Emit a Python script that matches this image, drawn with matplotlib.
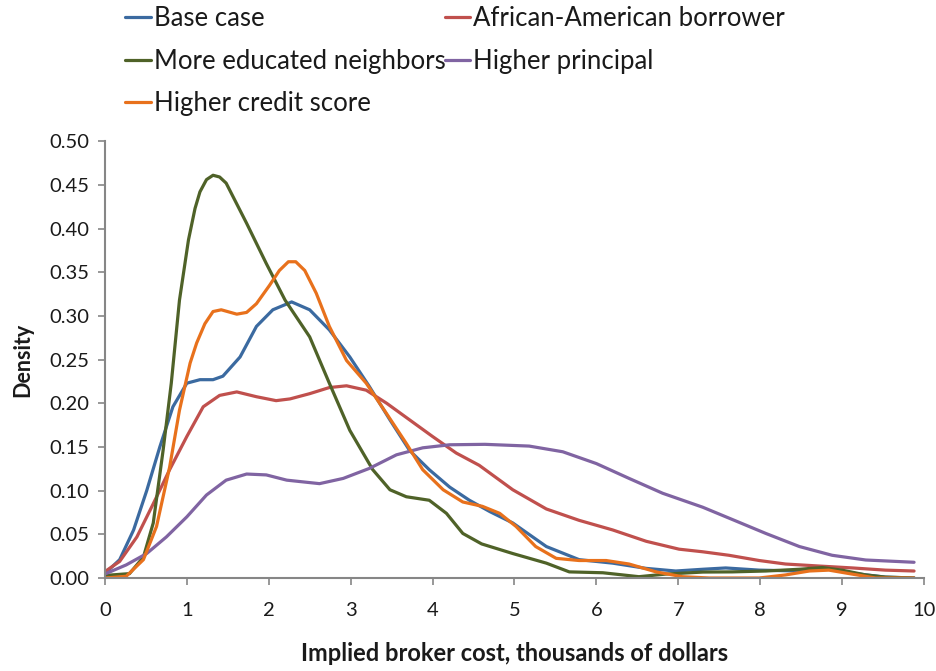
import matplotlib.pyplot as plt

plt.rcParams['font.family'] = ['Lato', 'DejaVu Sans']

# Kernel density curves (x: thousands of dollars)
base_x = [0.01, 0.18, 0.35, 0.51, 0.67, 0.83, 1.0, 1.16, 1.32, 1.44, 1.65, 1.85, 2.05, 2.28,
          2.50, 2.74, 2.99, 3.23, 3.48, 3.72, 3.96, 4.21, 4.45, 4.70, 4.98, 5.39, 5.79, 6.20,
          6.61, 6.97, 7.30, 7.58, 7.99, 8.48, 8.84, 9.17, 9.53, 9.88]
base_y = [0.006, 0.021, 0.055, 0.100, 0.150, 0.196, 0.223, 0.227, 0.227, 0.231, 0.253, 0.288,
          0.307, 0.316, 0.307, 0.284, 0.253, 0.219, 0.181, 0.146, 0.124, 0.104, 0.089, 0.076,
          0.063, 0.036, 0.021, 0.017, 0.011, 0.008, 0.010, 0.0115, 0.009, 0.008, 0.010,
          0.005, 0.001, 0.000]

afam_x = [0.01, 0.18, 0.39, 0.59, 0.79, 1.0, 1.20, 1.40, 1.61, 1.85, 2.09, 2.26, 2.50, 2.74,
          2.95, 3.19, 3.44, 3.72, 4.0, 4.29, 4.57, 4.98, 5.39, 5.79, 6.20, 6.61, 7.01, 7.30,
          7.62, 7.99, 8.31, 8.72, 9.13, 9.53, 9.88]
afam_y = [0.008, 0.019, 0.047, 0.085, 0.124, 0.162, 0.196, 0.209, 0.213, 0.2075, 0.203,
          0.205, 0.211, 0.218, 0.220, 0.215, 0.200, 0.181, 0.162, 0.143, 0.129, 0.101, 0.079,
          0.066, 0.055, 0.042, 0.033, 0.030, 0.026, 0.020, 0.016, 0.0137, 0.0115, 0.009, 0.008]

educ_x = [0.01, 0.30, 0.47, 0.59, 0.71, 0.81, 0.91, 1.02, 1.10, 1.16, 1.24, 1.32, 1.40, 1.48,
          1.73, 1.97, 2.20, 2.50, 2.74, 2.99, 3.27, 3.48, 3.68, 3.96, 4.17, 4.37, 4.60, 4.98,
          5.39, 5.67, 6.08, 6.52, 6.85, 7.30, 7.66, 8.07, 8.48, 8.76, 9.0, 9.29, 9.53, 9.88]
educ_y = [0.003, 0.005, 0.024, 0.063, 0.146, 0.223, 0.318, 0.387, 0.423, 0.442, 0.456, 0.461,
          0.459, 0.452, 0.406, 0.360, 0.318, 0.276, 0.223, 0.169, 0.124, 0.101, 0.093, 0.089,
          0.074, 0.051, 0.039, 0.028, 0.017, 0.007, 0.006, 0.0015, 0.0045, 0.0068, 0.007,
          0.008, 0.010, 0.012, 0.009, 0.0035, 0.001, 0.000]

princ_x = [0.01, 0.26, 0.51, 0.75, 1.0, 1.24, 1.48, 1.73, 1.97, 2.22, 2.62, 2.91, 3.23, 3.56,
           3.88, 4.21, 4.64, 5.18, 5.59, 6.0, 6.40, 6.81, 7.30, 7.66, 8.07, 8.48, 8.88, 9.29,
           9.88]
princ_y = [0.005, 0.015, 0.028, 0.047, 0.070, 0.095, 0.112, 0.119, 0.118, 0.112, 0.108,
           0.114, 0.1255, 0.141, 0.149, 0.1525, 0.153, 0.151, 0.1445, 0.131, 0.114, 0.097,
           0.081, 0.067, 0.051, 0.036, 0.026, 0.0206, 0.018]

credit_x = [0.01, 0.26, 0.47, 0.63, 0.79, 0.91, 1.04, 1.12, 1.22, 1.32, 1.42, 1.61, 1.73,
            1.85, 2.01, 2.13, 2.24, 2.33, 2.44, 2.58, 2.74, 2.95, 3.19, 3.44, 3.68, 3.88,
            4.13, 4.37, 4.61, 4.82, 5.02, 5.26, 5.51, 5.79, 6.12, 6.40, 6.73, 7.05, 7.38,
            7.99, 8.31, 8.60, 8.84, 9.09, 9.41, 9.88]
credit_y = [0.000, 0.002, 0.021, 0.059, 0.127, 0.192, 0.246, 0.269, 0.291, 0.305, 0.307,
            0.302, 0.304, 0.314, 0.335, 0.352, 0.362, 0.362, 0.352, 0.326, 0.288, 0.249,
            0.223, 0.188, 0.154, 0.124, 0.101, 0.087, 0.082, 0.074, 0.059, 0.036, 0.0225,
            0.020, 0.020, 0.016, 0.007, 0.0015, 0.000, 0.000, 0.0035, 0.008, 0.009, 0.005,
            0.000, 0.000]

series = [
    ('Base case', base_x, base_y, '#3b6aa0'),
    ('African-American borrower', afam_x, afam_y, '#c0504d'),
    ('More educated neighbors', educ_x, educ_y, '#4f6228'),
    ('Higher principal', princ_x, princ_y, '#8064a2'),
    ('Higher credit score', credit_x, credit_y, '#e8711c'),
]

fig = plt.figure(figsize=(9.37, 6.71), dpi=100)
ax = fig.add_axes([0.112, 0.1386, 0.874, 0.651])

lines = {}
for name, xs, ys, col in series:
    ln, = ax.plot(xs, ys, color=col, linewidth=2.3, label=name,
                  solid_joinstyle='round', solid_capstyle='round')
    lines[name] = ln

ax.set_xlim(0, 10)
ax.set_ylim(0, 0.5)
ax.set_xticks(range(0, 11))
ax.set_yticks([i * 0.05 for i in range(11)])
ax.set_yticklabels(['%.2f' % (i * 0.05) for i in range(11)])

for s in ['top', 'right']:
    ax.spines[s].set_visible(False)
for s in ['left', 'bottom']:
    ax.spines[s].set_color('#868686')
    ax.spines[s].set_linewidth(1.5)
ax.tick_params(axis='both', colors='#868686', length=5, width=1.2, labelsize=14.5,
               labelcolor='#1a1a1a')
ax.tick_params(axis='x', pad=12)
ax.tick_params(axis='y', pad=6)

ax.set_xlabel('Implied broker cost, thousands of dollars', fontsize=17, fontweight='bold',
              color='#1a1a1a', labelpad=17)
ax.set_ylabel('Density', fontsize=15.5, fontweight='bold', color='#1a1a1a', labelpad=12)

order = ['Base case', 'More educated neighbors', 'Higher credit score',
         'African-American borrower', 'Higher principal']
fig.legend([lines[n] for n in order], order, ncol=2, loc='upper left',
           bbox_to_anchor=(0.109, 1.025), frameon=False, fontsize=18.5,
           handlelength=1.0, handletextpad=0.12, columnspacing=-0.05,
           labelspacing=0.68, labelcolor='#1a1a1a')

fig.savefig('out.png', dpi=100)
